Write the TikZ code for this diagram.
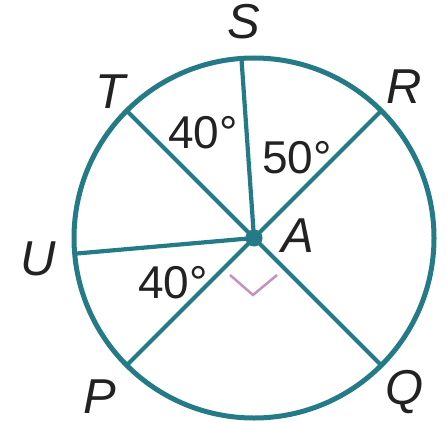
\documentclass[tikz,border=0pt]{standalone}
\usepackage{fontspec}
\setmainfont{Liberation Sans}
\usetikzlibrary{calc}
\begin{document}
\begin{tikzpicture}[x=1pt,y=1pt,
  teal/.style={draw=circ,line width=5pt},
  ray/.style={draw=circ,line width=4.2pt},
  lbl/.style={inner sep=0pt,anchor=base west,text=txt,font=\fontsize{49}{51}\selectfont\itshape},
  num/.style={inner sep=0pt,anchor=base west,text=txt,font=\fontsize{46}{48}\selectfont}]
\definecolor{circ}{HTML}{257A88}
\definecolor{txt}{HTML}{222222}
\definecolor{pinkm}{HTML}{C890BE}
\useasboundingbox (0,0) rectangle (446,424);
\coordinate (A) at (254,186);
\coordinate (R) at ($(A)+(45:180)$);
\coordinate (S) at ($(A)+(94:180)$);
\coordinate (T) at ($(A)+(135:180)$);
\coordinate (U) at ($(A)+(185:180)$);
\coordinate (P) at ($(A)+(225:180)$);
\coordinate (Q) at ($(A)+(315:180)$);
\draw[teal] (A) circle (180);
\foreach \p in {R,S,T,U,P,Q} \draw[ray] (A) -- (\p);
\fill[circ] (A) circle (8.5);
\coordinate (m1) at (230,149);
\coordinate (m2) at (253,129);
\coordinate (m3) at (277,149);
\draw[pinkm,line width=2.5pt] (m1) -- (m2) -- (m3);
\node[lbl] (lS) at (227,385) {S};
\node[lbl] (lT) at (95,316) {T};
\node[lbl] (lR) at (386,321) {R};
\node[lbl] (lU) at (20,149) {U};
\node[lbl] (lA) at (281,172) {A};
\node[lbl] (lP) at (83,11) {P};
\node[lbl] (lQ) at (385,20) {Q};
\node[num] (n1) at (168,276) {40°};
\node[num] (n2) at (262,251) {50°};
\node[num] (n3) at (138,126) {40°};
\end{tikzpicture}
\end{document}
